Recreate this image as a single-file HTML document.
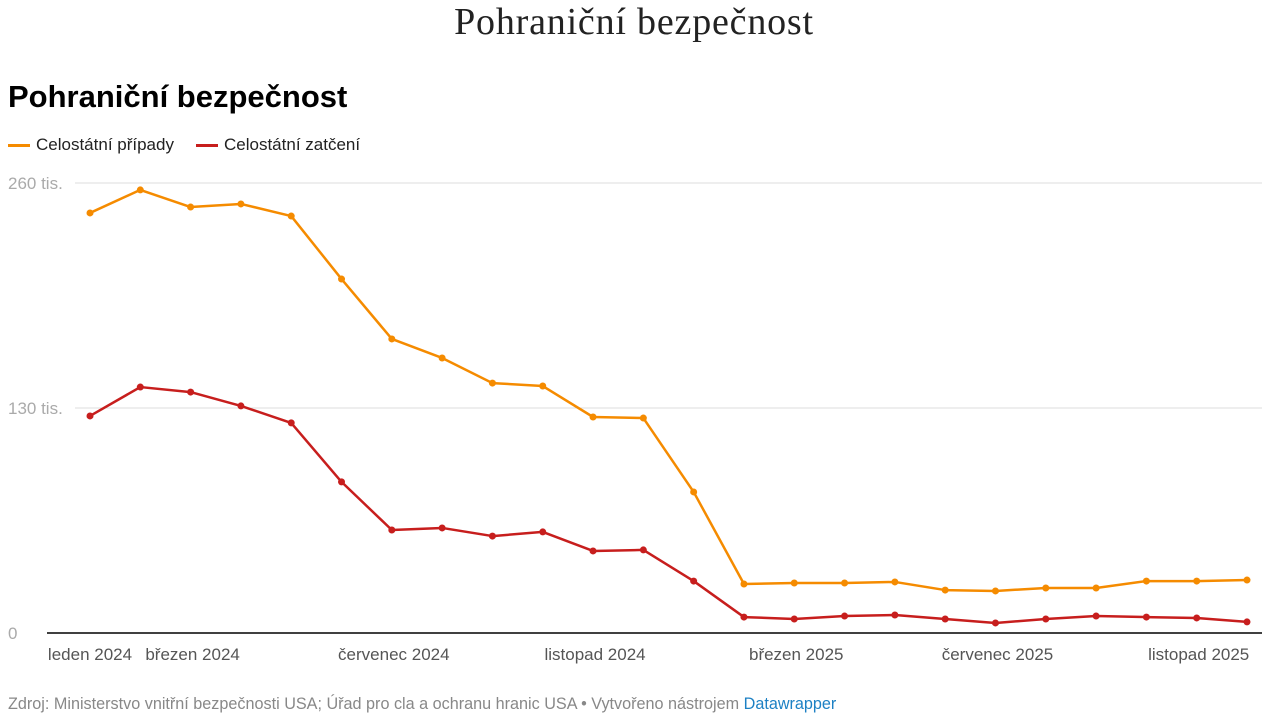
<!DOCTYPE html>
<html><head><meta charset="utf-8"><style>
body{margin:0;width:1268px;height:719px;background:#fff;font-family:"Liberation Sans",sans-serif;overflow:hidden;position:relative}
.t{position:absolute;white-space:nowrap}
</style></head><body>
<div class="t" style="left:0;width:1268px;text-align:center;top:0;font-family:'Liberation Serif',serif;font-size:38px;letter-spacing:0.8px;color:#222">Pohraniční bezpečnost</div>
<div class="t" style="left:8px;top:79px;font-size:31px;font-weight:bold;color:#000">Pohraniční bezpečnost</div>
<div class="t" style="left:8px;top:135px;font-size:17px;color:#222"><span style="display:inline-block;width:22px;height:3px;background:#f58b00;vertical-align:middle;margin-right:6px"></span>Celostátní případy</div>
<div class="t" style="left:196px;top:135px;font-size:17px;color:#222"><span style="display:inline-block;width:22px;height:3px;background:#c71e1d;vertical-align:middle;margin-right:6px"></span>Celostátní zatčení</div>
<svg id="ch" width="1268" height="719" style="position:absolute;left:0;top:0" xmlns="http://www.w3.org/2000/svg"></svg>
<div class="t" style="left:8px;top:695px;font-size:16.2px;color:#888">Zdroj: Ministerstvo vnitřní bezpečnosti USA; Úřad pro cla a ochranu hranic USA • Vytvořeno nástrojem <span style="color:#1d81c4">Datawrapper</span></div>
<script>
const cases=[242.7,256.0,246.1,247.9,240.9,204.5,169.9,158.9,144.4,142.7,124.8,124.2,81.5,28.3,28.9,28.9,29.5,24.8,24.3,26.0,26.0,30.0,30.0,30.6];
const arrests=[125.4,142.1,139.2,131.2,121.4,87.3,59.5,60.7,56.0,58.4,47.4,48.0,30.0,9.2,8.1,9.8,10.4,8.1,5.8,8.1,9.8,9.2,8.7,6.4];
const yTicks=[0,130,260];
const yTickLabels=["0","130 tis.","260 tis."];
const xLabelIdx=[0,2,6,10,14,18,22];
const xLabels=["leden 2024","březen 2024","červenec 2024","listopad 2024","březen 2025","červenec 2025","listopad 2025"];
const svg=document.getElementById('ch');const NS="http://www.w3.org/2000/svg";
const x=i=>90+i*(1247-90)/23;
const y=v=>633-v*(225/130);
function mk(t,a){const e=document.createElementNS(NS,t);for(const k in a)e.setAttribute(k,a[k]);svg.appendChild(e);return e;}
yTicks.forEach((v,i)=>{
 if(v>0){const l=mk('line',{x1:75,x2:1262,y1:y(v),y2:y(v),stroke:'#ddd','stroke-width':1});
 
 }
 const t=mk('text',{x:8,y:y(v)+6,'font-size':17,fill:'#aaa','font-family':'Liberation Sans, sans-serif'});
 t.textContent=yTickLabels[i];
 
 
});
const ax=mk('line',{x1:47,x2:1262,y1:633,y2:633,stroke:'#000','stroke-width':1.5});


xLabelIdx.forEach((idx,i)=>{
 const t=mk('text',{x:x(idx)+(i===0?0:2),y:660,'font-size':17,fill:'#555','text-anchor':'middle','font-family':'Liberation Sans, sans-serif'});
 t.textContent=xLabels[i];
 
 
});
[[cases,'#f58b00','cases'],[arrests,'#c71e1d','arrests']].forEach(([d,c,n])=>{
 const p=mk('polyline',{points:d.map((v,i)=>x(i)+','+y(v)).join(' '),fill:'none',stroke:c,'stroke-width':2.5,'stroke-linejoin':'round'});
 
 
 d.forEach((v,i)=>{const e=mk('circle',{cx:x(i),cy:y(v),r:3.5,fill:c});
 
 });
});
</script>
</body></html>
